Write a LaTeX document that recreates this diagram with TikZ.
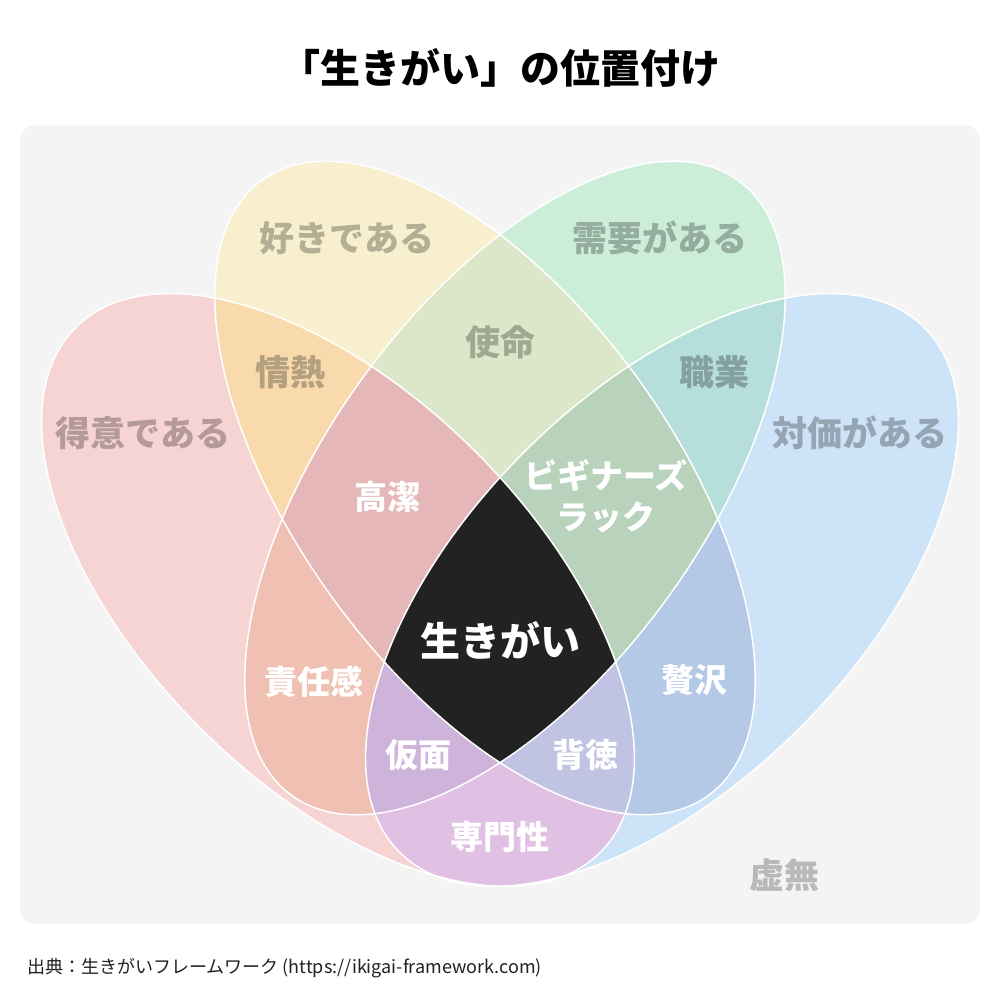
\documentclass[tikz,border=0pt]{standalone}
\usepackage{fontspec}
\newfontfamily\jp{Noto Sans CJK JP}
\usetikzlibrary{positioning}

\definecolor{bgpanel}{HTML}{F4F4F4}
\definecolor{cR}{HTML}{F7D4D4}
\definecolor{cY}{HTML}{F7EFCD}
\definecolor{cG}{HTML}{CCEED9}
\definecolor{cB}{HTML}{CDE3F7}
\definecolor{cRY}{HTML}{F8DAAD}
\definecolor{cYG}{HTML}{DCE7C9}
\definecolor{cGB}{HTML}{B6DEDB}
\definecolor{cRB}{HTML}{E0C1E3}
\definecolor{cRG}{HTML}{F0C0B2}
\definecolor{cYB}{HTML}{B3C9E5}
\definecolor{cRYG}{HTML}{E5B7B8}
\definecolor{cYGB}{HTML}{B9D2BC}
\definecolor{cRYB}{HTML}{C0C3E2}
\definecolor{cRGB}{HTML}{CEB4DA}
\definecolor{cAll}{HTML}{222222}

\tikzset{
	petal/.style={draw=white, line width=1.5pt},
	outer/.style={font=\jp\bfseries\fontsize{35}{35}\selectfont, text=black, text opacity=.27},
	inner/.style={font=\jp\bfseries\fontsize{33}{41}\selectfont, text=white, align=center},
}

\def\ellR{(338,413) ellipse [x radius=371, y radius=195, rotate=-45]}
\def\ellB{(662,413) ellipse [x radius=371, y radius=195, rotate=45]}
\def\ellY{(485,515) ellipse [x radius=380, y radius=188, rotate=-54]}
\def\ellG{(515,515) ellipse [x radius=380, y radius=188, rotate=54]}

\begin{document}
\begin{tikzpicture}[x=1pt, y=1pt]
	\useasboundingbox (0,0) rectangle (1000,1003);
	\fill[white] (0,0) rectangle (1000,1003);
	\fill[bgpanel, rounded corners=16pt] (20,79) rectangle (980,878);
	%
	\fill[cR] \ellR; \fill[cB] \ellB; \fill[cY] \ellY; \fill[cG] \ellG;
	%
	\begin{scope} \clip \ellR; \fill[cRY] \ellY; \end{scope}
	\begin{scope} \clip \ellR; \fill[cRG] \ellG; \end{scope}
	\begin{scope} \clip \ellR; \fill[cRB] \ellB; \end{scope}
	\begin{scope} \clip \ellY; \fill[cYG] \ellG; \end{scope}
	\begin{scope} \clip \ellY; \fill[cYB] \ellB; \end{scope}
	\begin{scope} \clip \ellG; \fill[cGB] \ellB; \end{scope}
	%
	\begin{scope} \clip \ellR; \clip \ellY; \fill[cRYG] \ellG; \end{scope}
	\begin{scope} \clip \ellR; \clip \ellY; \fill[cRYB] \ellB; \end{scope}
	\begin{scope} \clip \ellR; \clip \ellG; \fill[cRGB] \ellB; \end{scope}
	\begin{scope} \clip \ellY; \clip \ellG; \fill[cYGB] \ellB; \end{scope}
	\begin{scope} \clip \ellR; \clip \ellY; \clip \ellG; \fill[cAll] \ellB; \end{scope}
	%
	\draw[petal] \ellR; \draw[petal] \ellB; \draw[petal] \ellY; \draw[petal] \ellG;
	%
	\node (title) [font=\jp\bfseries\fontsize{40}{40}\selectfont] at (500,935) {「生きがい」の位置付け};
	%
	\node (tokui) [outer] at (143,570) {得意である};
	\node (suki) [outer] at (347,765) {好きである};
	\node (juyou) [outer] at (660,765) {需要がある};
	\node (taika) [outer] at (860,570) {対価がある};
	\node (jounetsu) [outer] at (290,631) {情熱};
	\node (shimei) [outer] at (500,661) {使命};
	\node (shokugyou) [outer] at (714,631) {職業};
	\node (kyomu) [outer, text opacity=.24] at (784,128) {虚無};
	%
	\node (kouketsu) [inner] at (387,506) {高潔};
	\node (beginner) [inner] at (606,507) {ビギナーズ\\ラック};
	\node (ikigai) [inner, font=\jp\bfseries\fontsize{40}{40}\selectfont] at (500,363) {生きがい};
	\node (sekinin) [inner] at (314,321) {責任感};
	\node (zeitaku) [inner] at (694,323) {贅沢};
	\node (kamen) [inner] at (418,248) {仮面};
	\node (haitoku) [inner] at (585,248) {背徳};
	\node (senmon) [inner] at (500,166) {専門性};
	%
	\node (source) [anchor=west, inner sep=0pt, font=\jp\fontsize{18}{18}\selectfont, text=black!87] at (27,35) {出典：生きがいフレームワーク (https://ikigai-framework.com)};
\end{tikzpicture}
\end{document}
